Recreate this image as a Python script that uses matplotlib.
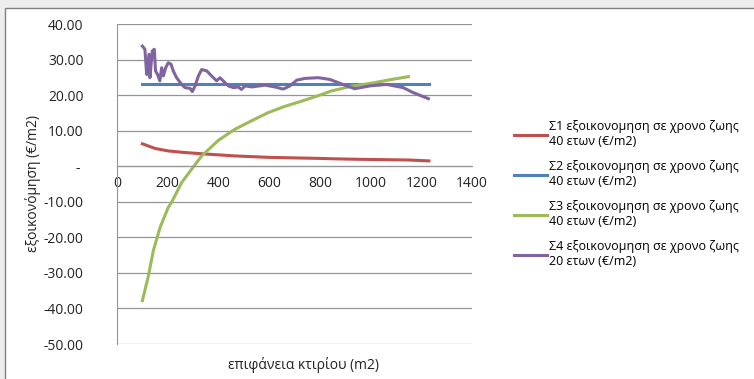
import matplotlib
matplotlib.use("Agg")
import matplotlib.pyplot as plt
from matplotlib.patches import Rectangle
from matplotlib.ticker import FuncFormatter, MultipleLocator

plt.rcParams['font.family'] = ['Open Sans', 'DejaVu Sans']

# Σ1
s1_x = [100, 150, 202, 260, 334, 400, 465, 530, 597, 660, 728, 800, 847, 950, 1050, 1150, 1230]
s1_y = [6.3, 5.0, 4.3, 3.9, 3.5, 3.2, 2.9, 2.7, 2.5, 2.4, 2.3, 2.2, 2.1, 1.95, 1.85, 1.75, 1.5]

# Σ2
s2_x = [100, 1230]
s2_y = [23.0, 23.0]

# Σ3
s3_x = [100, 124, 143, 170, 202, 215, 255, 300, 334, 400, 465, 537, 597, 660, 728, 800, 847,
        932, 1000, 1075, 1149]
s3_y = [-37.8, -30.8, -23.8, -17.2, -11.6, -10.2, -4.6, -0.3, 2.9, 7.3, 10.4, 13.0, 15.1, 16.8,
        18.3, 20.0, 21.2, 22.6, 23.3, 24.3, 25.2]

# Σ4
s4_x = [100, 110, 117, 126, 130, 139, 147, 152, 160, 169, 176, 183, 192, 202, 213, 222, 235,
        255, 268, 288, 297, 308, 321, 334, 354, 373, 393, 406, 419, 439, 459, 478, 491, 505,
        531, 584, 623, 656, 682, 709, 741, 794, 840, 876, 906, 938, 998, 1063, 1129, 1168, 1228]
s4_y = [33.8, 32.9, 25.8, 31.5, 24.9, 32.4, 32.9, 26.8, 25.8, 24.0, 27.7, 25.4, 27.7, 29.1,
        28.7, 26.8, 24.9, 23.0, 22.1, 21.9, 21.0, 22.6, 25.4, 27.2, 26.8, 25.4, 24.0, 24.9,
        24.0, 22.6, 22.1, 22.3, 21.6, 22.6, 22.3, 22.8, 22.3, 21.7, 22.6, 24.2, 24.7, 24.9,
        24.4, 23.4, 22.6, 21.8, 22.6, 23.0, 22.1, 20.7, 19.0]

labels = ['Σ1 εξοικονομηση σε χρονο ζωης\n40 ετων (€/m2)',
          'Σ2 εξοικονομηση σε χρονο ζωης\n40 ετων (€/m2)',
          'Σ3 εξοικονομηση σε χρονο ζωης\n40 ετων (€/m2)',
          'Σ4 εξοικονομηση σε χρονο ζωης\n20 ετων (€/m2)']
colors = ['#C0504D', '#4F81BD', '#9BBB59', '#8064A2']

fig = plt.figure(figsize=(7.54, 3.79), dpi=100)
fig.patch.set_facecolor('#EDEDED')
fig.patches.append(Rectangle((5 / 754, -0.05), 1.0, 1 - 8 / 379 + 0.05, transform=fig.transFigure,
                             facecolor='white', edgecolor='#7F7F7F', linewidth=1.0, zorder=-1))

ax = fig.add_axes([117 / 754, 1 - 344 / 379, (472 - 117) / 754, (344 - 24) / 379])
ax.set_facecolor('none')
ax.set_zorder(2)

series = [(s1_x, s1_y), (s2_x, s2_y), (s3_x, s3_y), (s4_x, s4_y)]
for (xs, ys), lab, c in zip(series, labels, colors):
    ax.plot(xs, ys, color=c, lw=2.2, label=lab, solid_joinstyle='round')

ax.set_xlim(0, 1400)
ax.set_ylim(-50, 40)
ax.xaxis.set_major_locator(MultipleLocator(200))
ax.yaxis.set_major_locator(MultipleLocator(10))
ax.yaxis.set_major_formatter(FuncFormatter(lambda v, p: '- ' if abs(v) < 1e-9 else f'{v:.2f}'))
ax.grid(axis='y', color='#959595', lw=0.9)
ax.set_axisbelow(True)

for s in ['top', 'right']:
    ax.spines[s].set_visible(False)
ax.spines['bottom'].set_position(('data', 0))
ax.spines['bottom'].set_color('#959595')
ax.spines['left'].set_color('#959595')
ax.tick_params(axis='both', length=0, labelsize=10, colors='#222222')
ax.tick_params(axis='y', pad=24)
ax.tick_params(axis='x', pad=7)

fig.text(33 / 754, 1 - 184 / 379, 'εξοικονόμηση (€/m2)', rotation=90, ha='center', va='center',
         fontsize=10, color='#222222')
fig.text(303 / 754, 1 - 365 / 379, 'επιφάνεια κτιρίου (m2)', ha='center', va='center',
         fontsize=10, color='#222222')

fig.legend(loc='upper left', bbox_to_anchor=(503 / 754, 1 - 109 / 379), frameon=False,
           fontsize=9, handlelength=2.6, handletextpad=0.2, labelspacing=0.95)

fig.savefig('out.png', dpi=100, facecolor=fig.get_facecolor())
